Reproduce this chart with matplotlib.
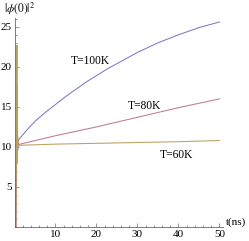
import matplotlib
matplotlib.use("Agg")
import matplotlib.pyplot as plt
from matplotlib.ticker import MultipleLocator

# data
t_100 = [0.35, 0.6, 0.8, 1.0, 3, 5, 7.5, 10, 12.5, 15, 17.5, 20, 22.5, 25, 27.5, 30, 35, 40, 45, 50]
y_100 = [0.0, 13.0, 9.5, 10.9, 12.1, 13.2, 14.3, 15.3, 16.3, 17.2, 18.1, 18.9, 19.7, 20.4, 21.1,
         21.8, 23.0, 24.0, 24.9, 25.6]

t_80 = [0.35, 0.6, 0.7, 0.8, 1.0, 10, 20, 30, 40, 50]
y_80 = [0.0, 17.8, 9.0, 11.0, 10.3, 11.4, 12.5, 13.7, 14.9, 16.0]

t_60 = [0.35, 0.6, 0.65, 0.75, 1.0, 10, 20, 30, 40, 50]
y_60 = [0.0, 22.7, 8.0, 11.5, 10.2, 10.35, 10.45, 10.55, 10.65, 10.8]

labels = ["T=100K", "T=80K", "T=60K"]
label_pos = [(18.4, 20.75), (31.8, 15.1), (39.6, 9.0)]
colors = ["#7a7ac8", "#c07898", "#b8a060"]

plt.rcParams['font.family'] = ['Liberation Serif', 'DejaVu Serif']
plt.rcParams['mathtext.fontset'] = 'stix'

W, H = 249, 241
fig = plt.figure(figsize=(W / 100, H / 100), dpi=100)
x0, y0 = 14.5, 227
ax = fig.add_axes([x0 / W, (H - y0) / H, (222.7 - x0) / W, (y0 - 18) / H])
ax.set_xlim(0, 50.8)
ax.set_ylim(0, 26.1)

for t, y, c in zip([t_100, t_80, t_60], [y_100, y_80, y_60], colors):
    ax.plot(t, y, color=c, lw=0.75)

for lab, (tx, ty) in zip(labels, label_pos):
    ax.text(tx, ty, lab, fontsize=8.3, ha='center', va='center')

for s in ['top', 'right']:
    ax.spines[s].set_visible(False)
for s in ['left', 'bottom']:
    ax.spines[s].set_color('#666666')
    ax.spines[s].set_linewidth(0.6)

ax.xaxis.set_major_locator(MultipleLocator(10))
ax.xaxis.set_minor_locator(MultipleLocator(2))
ax.yaxis.set_major_locator(MultipleLocator(5))
ax.yaxis.set_minor_locator(MultipleLocator(1))
ax.tick_params(which='major', direction='in', length=3, width=0.5, color='#666666',
               labelsize=8, pad=2)
ax.tick_params(which='minor', direction='in', length=1.5, width=0.5, color='#666666')
ax.set_xticks([10, 20, 30, 40, 50])
ax.set_yticks([5, 10, 15, 20, 25])

fig.text(4 / W, 1 - 8 / H, r'$|\phi(0)|^2$', fontsize=8.3, ha='left', va='center')
fig.text(226 / W, 1 - 222 / H, 't(ns)', fontsize=8, ha='left', va='center')

fig.savefig("out.png", dpi=100)
